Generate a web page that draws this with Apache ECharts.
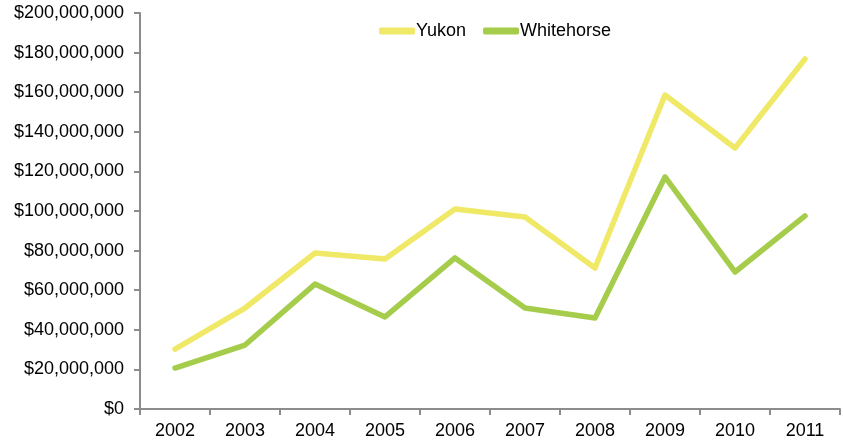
<!DOCTYPE html>
<html><head><meta charset="utf-8">
<script src="https://cdn.jsdelivr.net/npm/echarts@6/dist/echarts.min.js"></script>
<style>html,body{margin:0;padding:0;background:#fff}#c{width:843px;height:443px}</style>
</head><body><div id="c"></div>
<script>
const years = ['2002','2003','2004','2005','2006','2007','2008','2009','2010','2011'];
const yukon = [30300000, 51000000, 78800000, 75800000, 101000000, 97000000, 71200000, 158600000, 131800000, 176800000];
const whitehorse = [20700000, 32300000, 63100000, 46500000, 76300000, 51000000, 46000000, 117200000, 69200000, 97500000];
const seriesNames = ['Yukon', 'Whitehorse'];

const chart = echarts.init(document.getElementById('c'), null, {renderer: 'canvas'});
const fmt = v => '$' + Math.round(v).toString().replace(/\B(?=(\d{3})+(?!\d))/g, ',');
const axisColor = '#8c8c8c';
const font = 'Liberation Sans, Arial, sans-serif';
chart.setOption({
  animation: false,
  backgroundColor: '#fff',
  grid: {left: 140, right: 3, top: 13, bottom: 34, containLabel: false},
  legend: {
    top: 17, left: 374,
    itemWidth: 36, itemHeight: 7, itemGap: 17,
    icon: 'roundRect',
    textStyle: {fontFamily: font, fontSize: 18, color: '#000', padding: [0,0,0,-4]},
    data: seriesNames
  },
  xAxis: {
    type: 'category', data: years, boundaryGap: true,
    axisLine: {lineStyle: {color: axisColor, width: 2}},
    axisTick: {show: true, length: 6, interval: 0, lineStyle: {color: axisColor, width: 2}},
    axisLabel: {fontFamily: font, fontSize: 18, color: '#000', margin: 13}
  },
  yAxis: {
    type: 'value', min: 0, max: 200000000, interval: 20000000,
    axisLine: {show: true, lineStyle: {color: axisColor, width: 2}},
    axisTick: {show: true, length: 6, lineStyle: {color: axisColor, width: 2}},
    splitLine: {show: false},
    axisLabel: {fontFamily: font, fontSize: 18, color: '#000', margin: 16, formatter: fmt}
  },
  series: [
    {name: seriesNames[0], type: 'line', data: yukon, symbol: 'none', color: '#F0E867',
     lineStyle: {width: 5.5, cap: 'round', join: 'round'}},
    {name: seriesNames[1], type: 'line', data: whitehorse, symbol: 'none', color: '#A5CD4B',
     lineStyle: {width: 5.5, cap: 'round', join: 'round'}}
  ]
});
</script></body></html>
